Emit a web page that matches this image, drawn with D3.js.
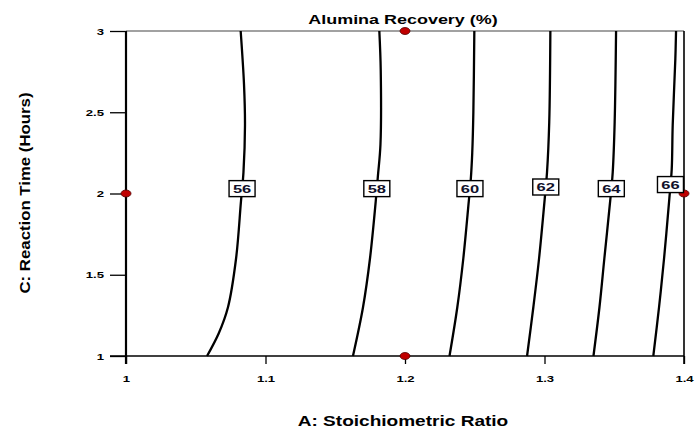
<html>
<head>
  <script src="https://d3js.org/d3.v7.min.js"></script>
  <style>
    body { margin: 0; background: #fff; }
    svg { display: block; font-family: "Liberation Sans", Arial, sans-serif; }
  </style>
</head>
<body>
  <div id="chart"></div>
<script>
  // contour levels and their traced points [A, C]
  var levels = [56, 58, 60, 62, 64, 66];
  var c56 = [[1.0822, 3], [1.0846, 2.67], [1.0853, 2.42], [1.0842, 2.13], [1.0824, 1.95], [1.0789, 1.60], [1.0731, 1.30], [1.0665, 1.14], [1.0581, 1]];
  var c58 = [[1.1816, 3], [1.1826, 2.76], [1.1824, 2.30], [1.1806, 2.11], [1.1790, 1.95], [1.1749, 1.60], [1.1699, 1.30], [1.1627, 1]];
  var c60 = [[1.2497, 3], [1.2490, 2.50], [1.2482, 2.25], [1.2471, 2.08], [1.2457, 1.95], [1.2418, 1.60], [1.2375, 1.30], [1.2319, 1]];
  var c62 = [[1.3042, 3], [1.3034, 2.44], [1.3018, 2.13], [1.3004, 1.99], [1.2961, 1.60], [1.2920, 1.30], [1.2875, 1]];
  var c64 = [[1.3513, 3], [1.3503, 2.44], [1.3489, 2.13], [1.3475, 1.99], [1.3429, 1.60], [1.3394, 1.30], [1.3351, 1]];
  var c66 = [[1.3943, 3], [1.3938, 2.83], [1.3919, 2.42], [1.3912, 2.15], [1.3895, 1.97], [1.3857, 1.60], [1.3821, 1.30], [1.3780, 1]];
  var contours = [c56, c58, c60, c62, c64, c66];
  var labelC = [2.03, 2.03, 2.03, 2.04, 2.03, 2.055];

  // design points
  var ptA = [1, 1.2, 1.2, 1.4];
  var ptC = [2, 3, 1, 2];

  var xTicks = [1, 1.1, 1.2, 1.3, 1.4];
  var yTicks = [1, 1.5, 2, 2.5, 3];

  var width = 695, height = 430;
  var stretch = 1.38; // text in the reference is wide

  var svg = d3.select("#chart").append("svg")
    .attr("width", width).attr("height", height);

  var x = d3.scaleLinear().domain([1, 1.4]).range([126, 684]);
  var y = d3.scaleLinear().domain([1, 3]).range([356, 31]);

  function widen(sel, k) {
    sel.each(function() {
      var w = this.getComputedTextLength();
      d3.select(this).attr("textLength", w * (k || stretch)).attr("lengthAdjust", "spacingAndGlyphs");
    });
  }

  // frame
  svg.append("line").attr("x1", x(1)).attr("x2", x(1.4)).attr("y1", y(3)).attr("y2", y(3))
    .attr("stroke", "#444").attr("stroke-width", 1.2);
  svg.append("line").attr("x1", x(1.4)).attr("x2", x(1.4)).attr("y1", y(3)).attr("y2", y(1) + 8)
    .attr("stroke", "#000").attr("stroke-width", 1.6);

  // axes
  var gx = svg.append("g").attr("transform", "translate(0," + y(1) + ")")
    .call(d3.axisBottom(x).tickValues(xTicks).tickSize(8).tickPadding(11).tickFormat(d3.format("")));
  var gy = svg.append("g").attr("transform", "translate(" + x(1) + ",0)")
    .call(d3.axisLeft(y).tickValues(yTicks).tickSize(16).tickPadding(6).tickFormat(d3.format("")));

  gx.select(".domain").attr("stroke", "#000").attr("stroke-width", 1.3).attr("d", "M" + (x(1) - 16) + ",0H" + x(1.4));
  gy.select(".domain").attr("stroke", "#000").attr("stroke-width", 2.2).attr("d", "M0," + y(3) + "V" + (y(1) + 8));
  svg.selectAll(".tick line").attr("stroke", "#000").attr("stroke-width", 1.3);
  svg.selectAll(".tick text").attr("font-size", 9.5).attr("font-weight", "bold")
    .attr("font-family", "Liberation Sans, Arial, sans-serif").attr("fill", "#000");
  widen(svg.selectAll(".tick text"));

  // contour lines
  var line = d3.line().x(function(d) { return x(d[0]); }).y(function(d) { return y(d[1]); })
    .curve(d3.curveCatmullRom);

  svg.append("g").selectAll("path").data(contours).enter().append("path")
    .attr("d", line).attr("fill", "none").attr("stroke", "#000").attr("stroke-width", 2.3);

  // design points
  svg.append("g").selectAll("ellipse").data(ptA).enter().append("ellipse")
    .attr("cx", function(d) { return x(d); })
    .attr("cy", function(d, i) { return y(ptC[i]); })
    .attr("rx", 5).attr("ry", 3.5)
    .attr("fill", "#c00000").attr("stroke", "#500000").attr("stroke-width", 0.8);

  // contour labels
  function aAt(pts, c) {
    for (var i = 0; i < pts.length - 1; i++) {
      var p = pts[i], q = pts[i + 1];
      if (c <= p[1] && c >= q[1]) {
        var t = (p[1] - c) / (p[1] - q[1]);
        return p[0] + t * (q[0] - p[0]);
      }
    }
    return pts[0][0];
  }

  var labs = svg.append("g").selectAll("g").data(levels).enter().append("g")
    .attr("transform", function(d, i) {
      return "translate(" + x(aAt(contours[i], labelC[i])) + "," + y(labelC[i]) + ")";
    });
  labs.append("rect").attr("x", -13).attr("y", -8).attr("width", 26).attr("height", 16)
    .attr("fill", "#fff").attr("stroke", "#000").attr("stroke-width", 1.4);
  labs.append("text").attr("text-anchor", "middle").attr("dy", "0.36em")
    .attr("font-size", 11).attr("font-weight", "bold").attr("fill", "#10102a")
    .text(function(d) { return d; });
  widen(labs.selectAll("text"), 1.5);

  // titles
  svg.append("text").attr("x", 403).attr("y", 24).attr("text-anchor", "middle")
    .attr("font-size", 13).attr("font-weight", "bold").text("Alumina Recovery (%)")
    .call(widen);
  svg.append("text").attr("x", 403).attr("y", 426).attr("text-anchor", "middle")
    .attr("font-size", 13.8).attr("font-weight", "bold").text("A: Stoichiometric Ratio")
    .call(widen);
  svg.append("text").attr("transform", "translate(30,193) scale(1.38,1) rotate(-90)")
    .attr("text-anchor", "middle")
    .attr("font-size", 11).attr("font-weight", "bold").text("C: Reaction Time (Hours)")
    .attr("textLength", 201).attr("lengthAdjust", "spacingAndGlyphs");
</script>
</body>
</html>
